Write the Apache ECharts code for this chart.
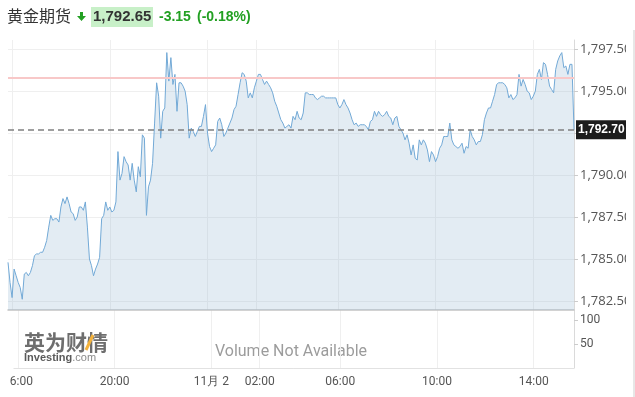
<!DOCTYPE html>
<html><head><meta charset="utf-8">
<script src="https://cdn.jsdelivr.net/npm/echarts@6/dist/echarts.min.js"></script>
<style>html,body{margin:0;padding:0;background:#fff;}#c{width:635px;height:397px;}</style>
</head><body><div id="c"></div>
<script>
// trading sessions (5-minute bars), the 05:00-05:45 break is skipped
const sessions = [['15:50', '05:00'], ['05:45', '15:40']];
const xTickTimes = ['16:00', '20:00', '00:00', '02:00', '06:00', '10:00', '14:00'];
const xTickLabels = ['16:00', '20:00', '11月 2', '02:00', '06:00', '10:00', '14:00'];
const priceTicks = [1782.5, 1785, 1787.5, 1790, 1792.5, 1795, 1797.5];
const priceLabelTicks = [1782.5, 1785, 1787.5, 1790, 1795, 1797.5];
const volumeTicks = [50, 100];
const lastPrice = 1792.70;
const prevClose = 1795.80;
const headerName = '黄金期货';
const headerPrice = '1,792.65';
const headerChange = '-3.15';
const headerPct = '(-0.18%)';
const prices = [
  1784.8, 1783.6, 1782.7, 1784.4, 1784.0, 1783.6, 1783.3, 1782.6, 1784.1, 1784.2,
  1784.0, 1784.2, 1784.6, 1785.2, 1785.3, 1785.3, 1785.4, 1785.4, 1785.7, 1786.1,
  1786.9, 1787.6, 1787.3, 1787.4, 1787.4, 1787.2, 1788.1, 1788.6, 1788.3, 1788.7,
  1788.3, 1787.8, 1787.7, 1787.3, 1787.5, 1788.1, 1788.1, 1787.9, 1788.4, 1786.9,
  1785.0, 1784.6, 1784.0, 1784.4, 1784.7, 1785.1, 1787.4, 1787.6, 1788.4, 1787.9,
  1788.1, 1787.8, 1787.9, 1788.4, 1791.4, 1789.7, 1790.1, 1791.1, 1790.8, 1790.6,
  1789.7, 1790.7, 1789.7, 1789.0, 1790.5, 1789.9, 1792.4, 1792.2, 1787.6, 1789.3,
  1789.7, 1790.7, 1793.1, 1795.5, 1794.7, 1792.2, 1793.8, 1794.0, 1797.3, 1795.6,
  1797.0, 1795.4, 1796.0, 1793.8, 1795.5, 1795.5, 1795.3, 1795.0, 1794.2, 1792.2,
  1792.8, 1792.6, 1792.3, 1792.6, 1792.9, 1792.9, 1793.5, 1794.2, 1792.5, 1791.7,
  1791.4, 1791.6, 1791.8, 1793.2, 1793.4, 1793.0, 1792.3, 1792.5, 1792.8, 1793.1,
  1793.4, 1793.9, 1794.1, 1794.8, 1795.5, 1796.1, 1796.0, 1795.6, 1794.6, 1794.9,
  1794.6, 1795.2, 1795.6, 1796.0, 1796.0, 1795.7, 1795.4, 1795.6, 1795.4, 1795.2,
  1794.9, 1794.4, 1794.1, 1793.7, 1793.3, 1793.1, 1792.8, 1792.9, 1793.0, 1792.8,
  1793.5, 1793.3, 1793.8, 1793.4, 1793.3, 1793.7, 1794.9, 1794.9, 1794.8, 1794.8,
  1794.8, 1794.6, 1794.5, 1794.6, 1794.7, 1794.7, 1794.6, 1794.6, 1794.6, 1794.6,
  1794.6, 1794.6, 1794.2, 1794.0, 1794.2, 1794.5, 1794.2, 1794.0, 1793.7, 1793.3,
  1793.0, 1793.1, 1792.9, 1793.0, 1793.0, 1793.0, 1792.9, 1792.7, 1793.2, 1793.3,
  1793.8, 1793.5, 1793.8, 1793.6, 1793.5, 1793.6, 1793.8, 1793.5, 1793.4, 1793.0,
  1793.4, 1793.5, 1792.9, 1792.7, 1792.5, 1792.1, 1792.4, 1791.9, 1791.2, 1791.8,
  1791.0, 1790.9, 1792.1, 1791.8, 1792.1, 1791.9, 1791.5, 1790.8, 1791.4, 1791.2,
  1790.8, 1791.1, 1791.6, 1791.8, 1792.3, 1792.3, 1792.3, 1793.1, 1792.1, 1791.8,
  1791.7, 1791.6, 1791.7, 1791.9, 1791.3, 1791.7, 1791.6, 1792.7, 1792.3, 1792.1,
  1791.8, 1792.0, 1792.0, 1792.4, 1793.3, 1793.7, 1794.0, 1794.0, 1794.4, 1794.8,
  1795.4, 1795.5, 1795.5, 1795.5, 1795.4, 1795.2, 1794.6, 1794.8, 1794.5, 1794.6,
  1794.8, 1796.0, 1795.3, 1795.7, 1795.4, 1795.0, 1794.9, 1794.5, 1794.7, 1795.0,
  1796.0, 1796.3, 1795.7, 1796.7, 1796.6, 1796.0, 1795.3, 1795.1, 1794.9, 1796.3,
  1796.8, 1797.1, 1797.3, 1796.4, 1796.5, 1796.0, 1796.6, 1796.6, 1792.7
];

// build the category list of bar times from the sessions
const cats = [];
sessions.forEach(([s, e]) => {
  const [sh, sm] = s.split(':').map(Number);
  const [eh, em] = e.split(':').map(Number);
  let t = sh * 60 + sm, te = eh * 60 + em;
  if (te < t) te += 1440;
  for (; t <= te; t += 5) {
    const hh = Math.floor(t / 60) % 24, mm = t % 60;
    cats.push(String(hh).padStart(2, '0') + ':' + String(mm).padStart(2, '0'));
  }
});
const tickIdx = xTickTimes.map(t => cats.indexOf(t));
const isTick = (i) => tickIdx.indexOf(i) >= 0;
const fmtPrice = v => Number(v).toLocaleString('en-US', {minimumFractionDigits: 2, maximumFractionDigits: 2});

const chart = echarts.init(document.getElementById('c'), null, {renderer: 'canvas'});
const gridLine = {color: '#efefef', width: 1};
chart.setOption({
  animation: false,
  grid: [
    {left: 8, top: 40, width: 566, height: 270},
    {left: 8, top: 310, width: 566, height: 58}
  ],
  xAxis: [
    {type: 'category', gridIndex: 0, data: cats, boundaryGap: false,
     axisLine: {show: true, lineStyle: {color: '#c4c4c4', width: 1.5}},
     axisTick: {show: false}, axisLabel: {show: false},
     splitLine: {show: true, interval: isTick, lineStyle: gridLine}},
    {type: 'category', gridIndex: 1, data: cats, boundaryGap: false,
     axisLine: {show: true, lineStyle: {color: '#e2e2e2'}},
     axisTick: {show: false},
     axisLabel: {interval: isTick, formatter: v => xTickLabels[xTickTimes.indexOf(v)],
                 color: '#555', fontSize: 12, fontFamily: 'Roboto', margin: 8},
     splitLine: {show: true, interval: isTick, lineStyle: gridLine}}
  ],
  yAxis: [
    {type: 'value', gridIndex: 0, position: 'right', min: 1781.96, max: 1798.05, scale: true,
     axisLine: {show: true, lineStyle: {color: '#dadada'}},
     axisTick: {show: true, length: 4, customValues: priceTicks, lineStyle: {color: '#cccccc'}},
     axisLabel: {customValues: priceLabelTicks, formatter: fmtPrice, color: '#555',
                 fontSize: 13, fontFamily: 'Open Sans', margin: 6},
     splitLine: {show: true, lineStyle: gridLine}},
    {type: 'value', gridIndex: 1, position: 'right', min: 0, max: 120.8,
     axisLine: {show: true, lineStyle: {color: '#dadada'}},
     axisTick: {show: true, length: 4, customValues: volumeTicks, lineStyle: {color: '#cccccc'}},
     axisLabel: {customValues: volumeTicks, color: '#555', fontSize: 12, fontFamily: 'Roboto', margin: 6},
     splitLine: {show: false}}
  ],
  series: [{
    type: 'line', xAxisIndex: 0, yAxisIndex: 0, data: prices,
    symbol: 'none', showSymbol: false,
    lineStyle: {color: '#72a9d6', width: 1},
    areaStyle: {color: 'rgba(143,179,207,0.25)', opacity: 1, origin: 'start'},
    markLine: {
      symbol: 'none', silent: true, animation: false,
      data: [
        {yAxis: prevClose, lineStyle: {color: '#f8c8c8', width: 2, type: 'solid'}, label: {show: false}},
        {yAxis: lastPrice, lineStyle: {color: '#808080', width: 1.6, type: [6, 4]},
         label: {show: true, position: 'end', distance: 2, formatter: () => fmtPrice(lastPrice),
                 color: '#fff', backgroundColor: '#1c1c1c', fontWeight: 'bold', fontSize: 12,
                 fontFamily: 'Liberation Sans', padding: [4, 2, 3, 2]}}
      ]
    }
  }],
  graphic: [
    {type: 'text', left: 7, top: 8, style: {text: headerName, fontSize: 16, fill: '#333', fontFamily: 'Noto Sans CJK SC'}},
    {type: 'polygon', shape: {points: [[80, 12], [83, 12], [83, 16], [86, 16], [81.5, 21], [77, 16], [80, 16]]}, style: {fill: '#23a023'}},
    {type: 'rect', shape: {x: 91, y: 7, width: 62, height: 20}, style: {fill: '#c8f0c8'}},
    {type: 'text', x: 93, y: 17, style: {text: headerPrice, fontSize: 15, fontWeight: 'bold', fill: '#333', fontFamily: 'Liberation Sans', verticalAlign: 'middle'}},
    {type: 'text', x: 159, y: 17, style: {text: headerChange, fontSize: 14, fontWeight: 'bold', fill: '#22a022', fontFamily: 'Liberation Sans', verticalAlign: 'middle'}},
    {type: 'text', x: 197, y: 17, style: {text: headerPct, fontSize: 14, fontWeight: 'bold', fill: '#22a022', fontFamily: 'Liberation Sans', verticalAlign: 'middle'}},
    {type: 'text', x: 24, y: 342, style: {text: '英为财情', fontSize: 21, fontWeight: 'bold', fill: '#6e6e6e', fontFamily: 'Noto Sans CJK SC', verticalAlign: 'middle'}},
    {type: 'line', shape: {x1: 86, y1: 350, x2: 93, y2: 335}, style: {stroke: '#f5b33c', lineWidth: 3}},
    {type: 'text', x: 24, y: 357.5, style: {text: '{a|Investing}{b|.com}', verticalAlign: 'middle',
      rich: {a: {fontSize: 11, fontWeight: 'bold', fill: '#5a5a5a', fontFamily: 'Liberation Sans'},
             b: {fontSize: 11, fill: '#8a8a8a', fontFamily: 'Liberation Sans'}}}},
    {type: 'text', x: 291, y: 352, style: {text: 'Volume Not Available', fontSize: 16, fill: '#9c9c9c', fontFamily: 'Roboto', align: 'center', verticalAlign: 'middle'}},
    {type: 'rect', z: 100, shape: {x: 0, y: 370, width: 8, height: 27}, style: {fill: '#fff'}},
    {type: 'rect', z: 100, shape: {x: 626, y: 30, width: 8, height: 367}, style: {fill: '#fff'}},
    {type: 'line', z: 100, shape: {x1: 634, y1: 30, x2: 634, y2: 397}, style: {stroke: '#cfcfcf', lineWidth: 1}}
  ]
});
</script>
</body></html>
